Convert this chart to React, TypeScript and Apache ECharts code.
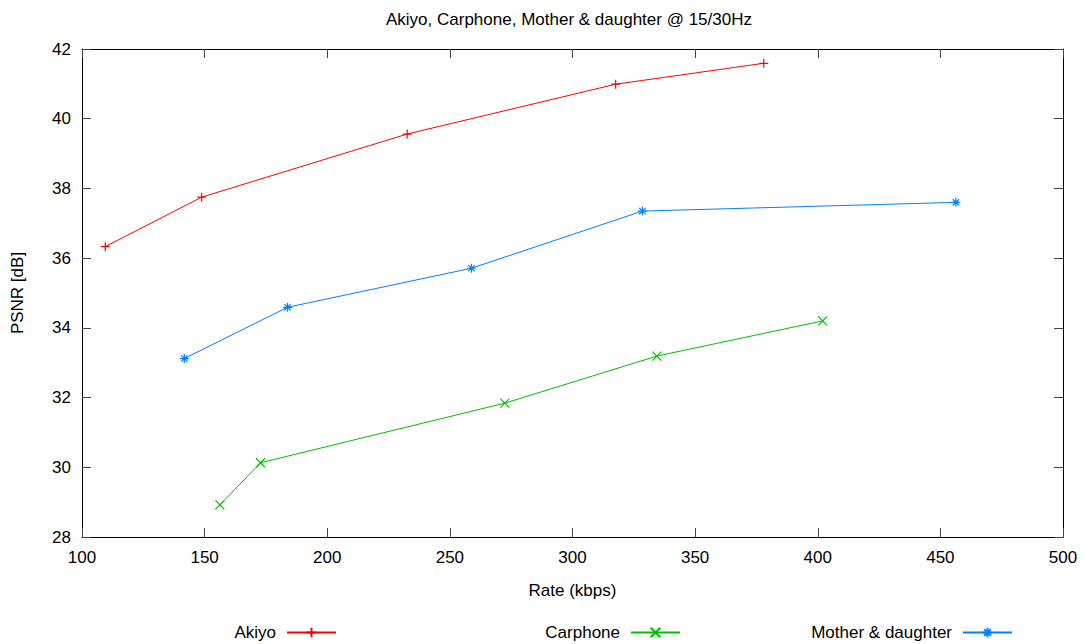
import React, { useEffect, useRef } from 'react';
import * as echarts from 'echarts';

const titleText = 'Akiyo, Carphone, Mother & daughter @ 15/30Hz';
const seriesNames = ['Akiyo', 'Carphone', 'Mother & daughter'];
const akiyoRate = [109.5, 148.8, 232.6, 317.6, 378.0];
const akiyoPsnr = [36.33, 37.75, 39.56, 40.99, 41.59];
const carphoneRate = [156.2, 172.8, 272.4, 334.4, 402.0];
const carphonePsnr = [28.92, 30.13, 31.84, 33.19, 34.2];
const motherRate = [141.7, 183.8, 258.8, 328.5, 456.3];
const motherPsnr = [33.12, 34.59, 35.71, 37.35, 37.6];

const FONT = '"Liberation Sans", Arial, Helvetica, sans-serif';
const PLUS = 'path://M5,0L5,10M0,5L10,5';
const CROSS = 'path://M0,0L10,10M0,10L10,0';
const STAR = 'path://M5,0L5,10M0,5L10,5M1.5,1.5L8.5,8.5M1.5,8.5L8.5,1.5';

const zip = (xs: number[], ys: number[]) => xs.map((x, i) => [x, ys[i]]);

export default function App() {
  const ref = useRef<HTMLDivElement>(null);
  useEffect(() => {
    if (!ref.current) return;
    const chart = echarts.init(ref.current, undefined, { renderer: 'svg' });
    const mk = (name: string, data: number[][], color: string, symbol: string) => ({
      name,
      type: 'line',
      data,
      symbol,
      symbolSize: 9,
      showSymbol: true,
      lineStyle: { color, width: 1 },
      itemStyle: { color: 'rgba(0,0,0,0)', borderColor: color, borderWidth: 1.2 },
      emphasis: { disabled: true },
    });
    const axisLineStyle = { show: true, lineStyle: { color: '#000', width: 1 } };
    const tick = { show: true, inside: true, length: 9, lineStyle: { color: '#444', width: 1 } };
    const legendCommon = {
      top: 624,
      padding: 0,
      align: 'right',
      orient: 'horizontal',
      itemWidth: 49,
      itemHeight: 12,
      itemGap: 0,
      selectedMode: false,
      textStyle: { fontSize: 17, color: '#000', fontFamily: FONT, padding: [0, 6, 0, 0] },
    };
    chart.setOption({
      animation: false,
      backgroundColor: '#fff',
      title: {
        text: titleText,
        left: 381,
        top: 6,
        textStyle: { fontSize: 17, fontWeight: 'normal', color: '#000', fontFamily: FONT },
      },
      grid: { left: 82, right: 21, top: 49, bottom: 107, containLabel: false },
      legend: [
        { ...legendCommon, data: [seriesNames[0]], right: 747 },
        { ...legendCommon, data: [seriesNames[1]], right: 403 },
        { ...legendCommon, data: [seriesNames[2]], right: 71 },
      ],
      xAxis: [
        {
          type: 'value',
          position: 'bottom',
          min: 100,
          max: 500,
          interval: 50,
          name: 'Rate (kbps)',
          nameLocation: 'middle',
          nameGap: 45,
          nameTextStyle: { fontSize: 17, color: '#000', fontFamily: FONT },
          axisLine: axisLineStyle,
          axisTick: tick,
          axisLabel: { fontSize: 17, color: '#000', fontFamily: FONT, margin: 12 },
          splitLine: { show: false },
        },
        {
          type: 'value',
          position: 'top',
          min: 100,
          max: 500,
          interval: 50,
          axisLine: axisLineStyle,
          axisTick: tick,
          axisLabel: { show: false },
          splitLine: { show: false },
        },
      ],
      yAxis: [
        {
          type: 'value',
          position: 'left',
          min: 28,
          max: 42,
          interval: 2,
          name: 'PSNR [dB]',
          nameLocation: 'middle',
          nameGap: 56,
          nameRotate: 90,
          nameTextStyle: { fontSize: 17, color: '#000', fontFamily: FONT },
          axisLine: axisLineStyle,
          axisTick: tick,
          axisLabel: { fontSize: 17, color: '#000', fontFamily: FONT, margin: 11 },
          splitLine: { show: false },
        },
        {
          type: 'value',
          position: 'right',
          min: 28,
          max: 42,
          interval: 2,
          axisLine: axisLineStyle,
          axisTick: tick,
          axisLabel: { show: false },
          splitLine: { show: false },
        },
      ],
      series: [
        mk(seriesNames[0], zip(akiyoRate, akiyoPsnr), '#ff0000', PLUS),
        mk(seriesNames[1], zip(carphoneRate, carphonePsnr), '#00c000', CROSS),
        mk(seriesNames[2], zip(motherRate, motherPsnr), '#0080ff', STAR),
      ],
    });
    return () => chart.dispose();
  }, []);
  return (
    <div
      ref={ref}
      style={{ position: 'fixed', left: 0, top: 0, width: 1084, height: 644 }}
    />
  );
}
